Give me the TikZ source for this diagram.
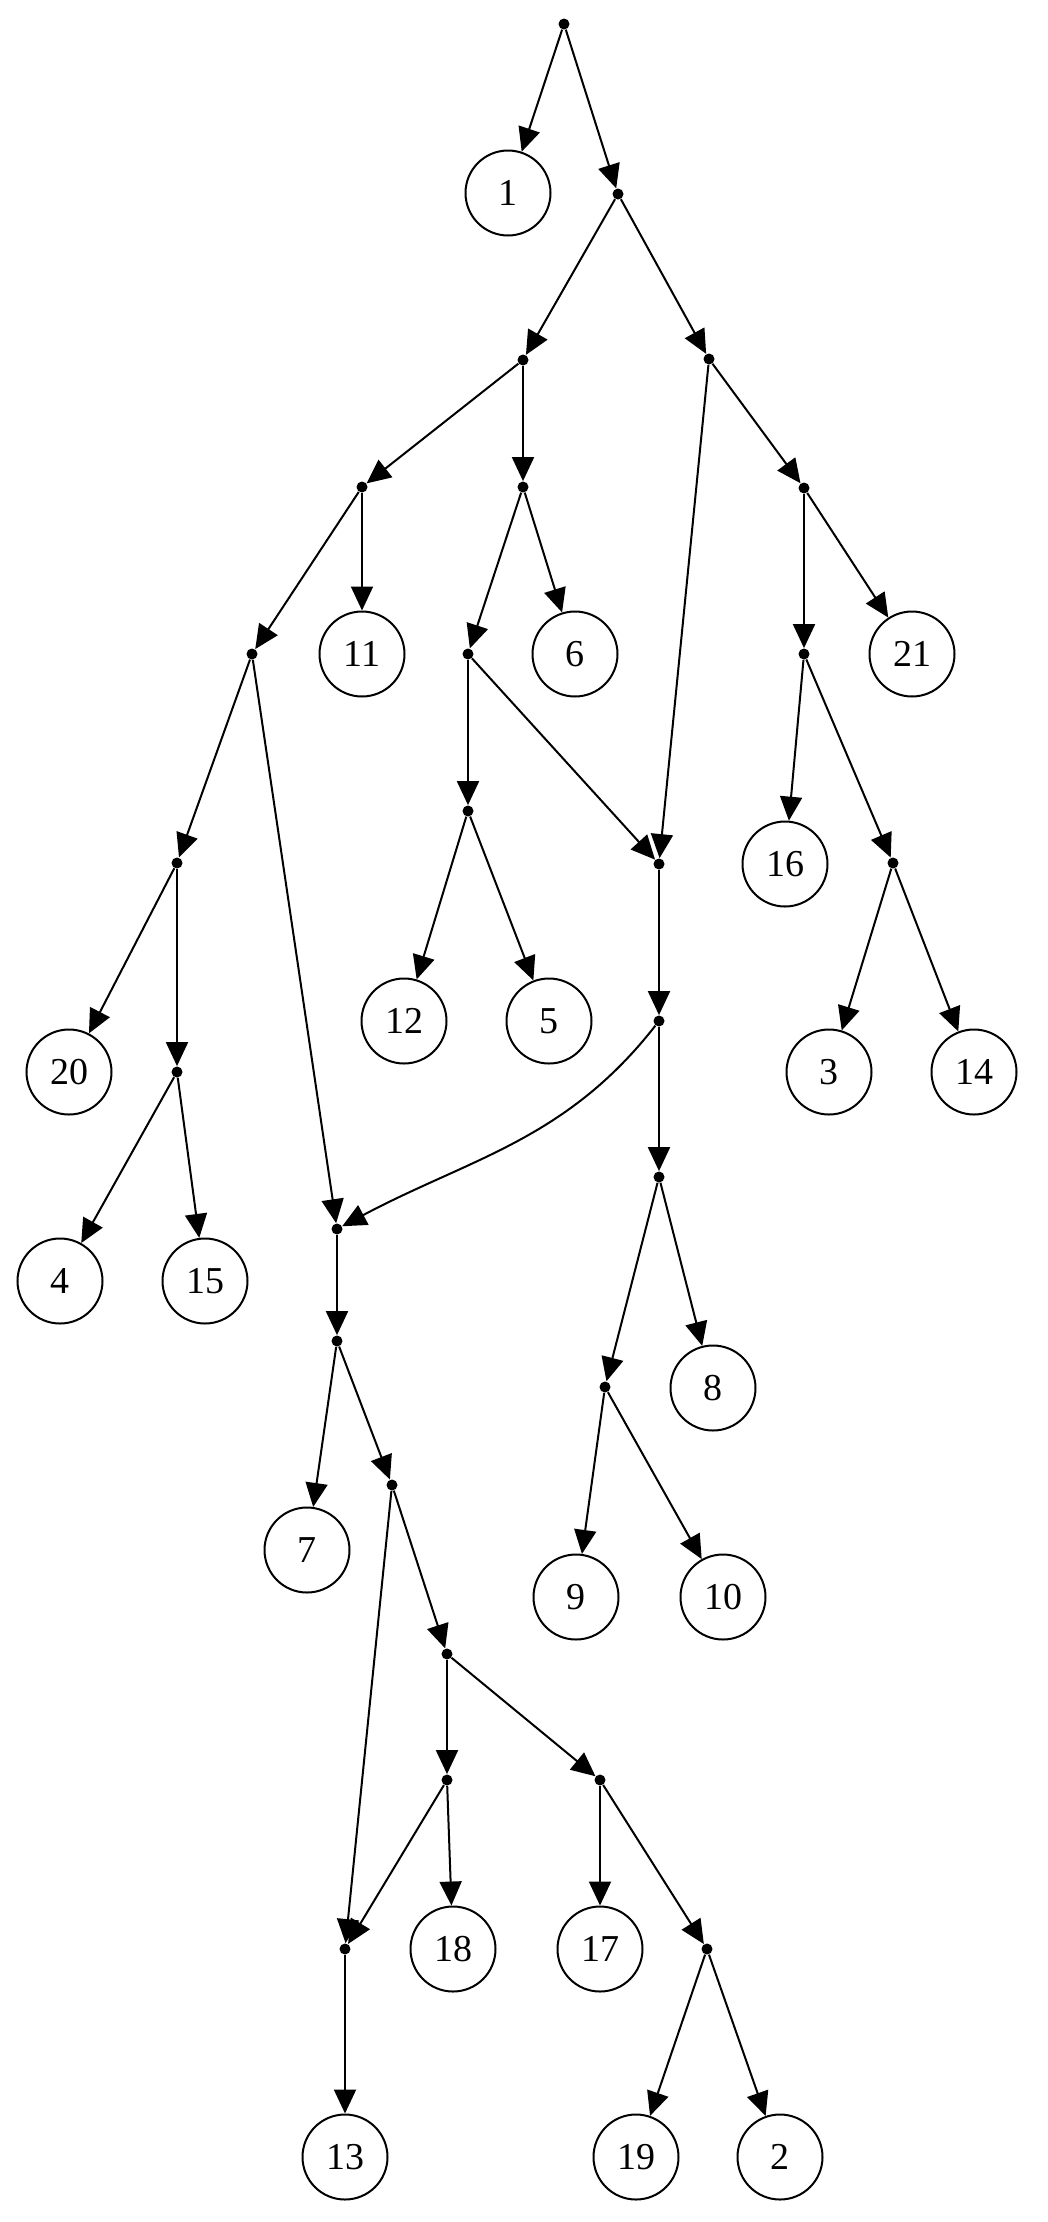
\documentclass[tikz,border=0pt]{standalone}
\usepackage{fontspec}
\setmainfont{Liberation Serif}
\usetikzlibrary{shapes.geometric,arrows.meta}

\begin{document}
\begin{tikzpicture}[x=0.5pt,y=0.5pt,
	dot/.style={circle,fill,inner sep=0pt,minimum size=5.5pt},
	leaf/.style={circle,draw,line width=1pt,inner sep=0pt,minimum size=42.5pt,font=\fontsize{19}{22}\selectfont},
	edge/.style={line width=1pt,-{Triangle[length=12pt,width=11pt]}}]
	\useasboundingbox (0,0) rectangle (1048,-2222);

	% branching points
	\foreach \n/\x/\y in {r/564/24, pa/618/194, pb/523/360, pc/709/359,
		pd/362/487, pe/523/487, pg/804/488, pf/468/654, pi/252/654, pj/804/654,
		pm/468/811, pk/177/863, ph/659/864, pq/893/863, pn/177/1072, po/659/1021,
		pu/659/1177, pl/337/1229, pr/337/1341, pv/605/1387, ps/392/1485,
		pt/447/1654, pw/447/1780, py/600/1780, px/345/1949, pz/707/1949}
		\node[dot] (\n) at (\x,-\y) {};

	% numbered leaves
	\foreach \n/\x/\y in {1/508/193, 11/362/654, 6/575/654, 21/912/654,
		16/785/864, 12/404/1021, 5/549/1021, 20/69/1072, 3/829/1072, 14/974/1072,
		4/60/1281, 15/205/1281, 8/713/1388, 7/307/1550, 9/576/1597, 10/723/1597,
		18/453/1949, 17/600/1949, 13/345/2157, 19/636/2157, 2/780/2157}
		\node[leaf] (c\n) at (\x,-\y) {\n};

	\foreach \a/\b in {r/c1, r/pa, pa/pb, pa/pc, pb/pd, pb/pe, pc/ph, pc/pg,
		pd/pi, pd/c11, pe/pf, pe/c6, pg/pj, pg/c21, pi/pk, pi/pl, pf/pm, pf/ph,
		pj/c16, pj/pq, pk/c20, pk/pn, pm/c12, pm/c5, ph/po, pq/c3, pq/c14,
		pn/c4, pn/c15, po/pu, pl/pr, pu/pv, pu/c8, pr/c7, pr/ps, pv/c9, pv/c10,
		ps/px, ps/pt, pt/pw, pt/py, pw/px, pw/c18, py/c17, py/pz, px/c13,
		pz/c19, pz/c2}
		\draw[edge] (\a) -- (\b);
	\draw[edge] (po) to[out=232,in=28] (pl);
\end{tikzpicture}
\end{document}
